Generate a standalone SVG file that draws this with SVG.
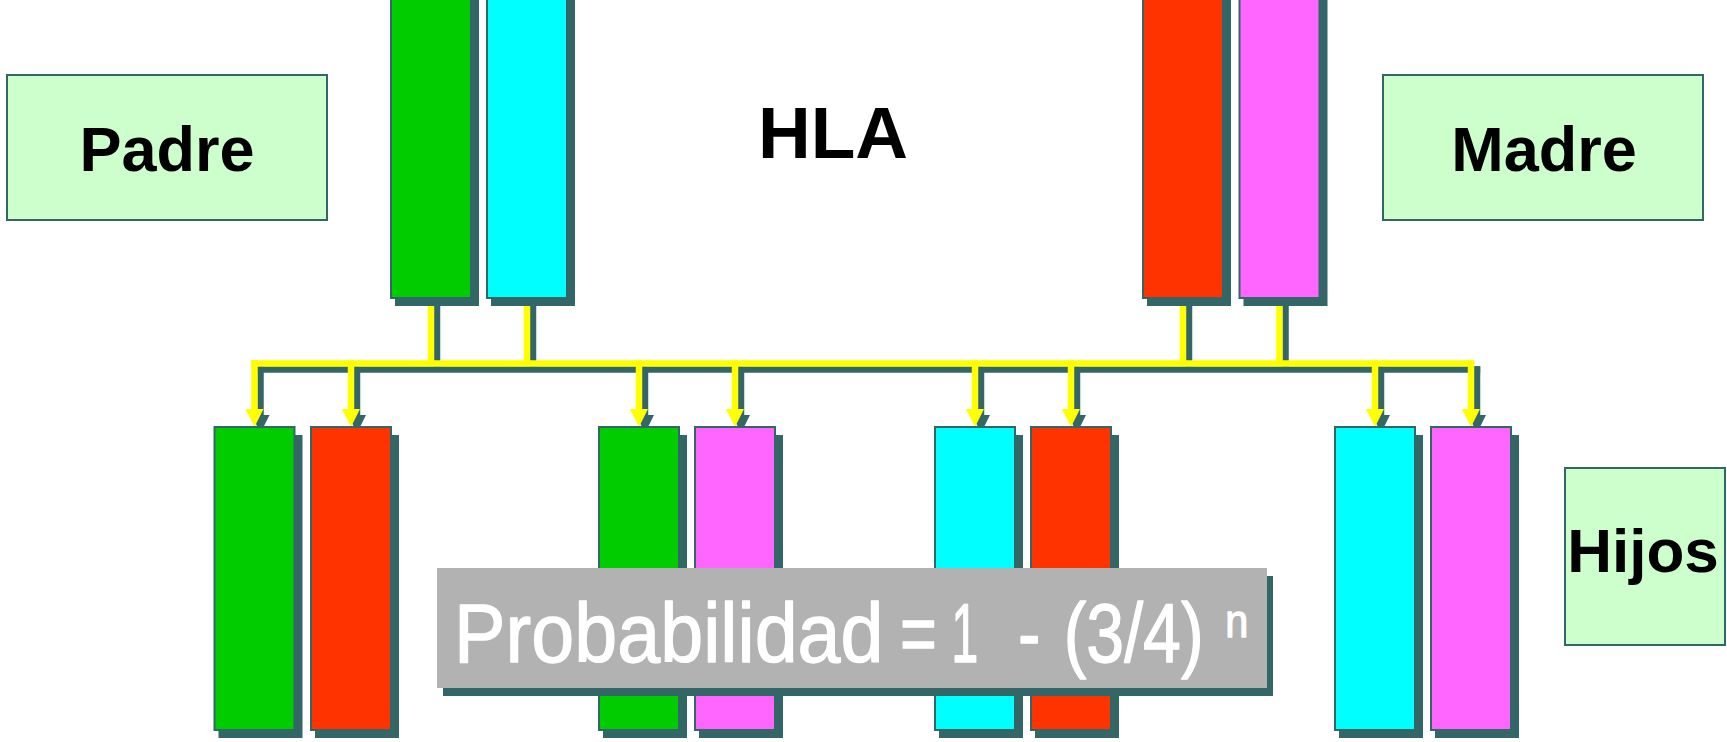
<svg xmlns="http://www.w3.org/2000/svg" width="1727" height="742" viewBox="0 0 1727 742">
<defs>
<style>
.bar{stroke:#336666;stroke-width:2}
.sh{fill:#336666}
.g{fill:#00cc00}.c{fill:#00ffff}.r{fill:#ff3300}.p{fill:#ff66ff}
.lbl{fill:#ccffcc;stroke:#336666;stroke-width:2}
.lt{font-family:"Liberation Sans",Arial,sans-serif;font-weight:bold;fill:#000;text-anchor:middle}
.pt{font-family:"Liberation Sans",Arial,sans-serif;font-size:84px;fill:#ffffff;stroke:#ffffff;stroke-width:1.3;stroke-linejoin:round}
.ly{fill:none;stroke:#ffff00;stroke-width:6.5}
.ls{fill:none;stroke:#336666;stroke-width:6.5}
.arr-y{marker-end:url(#ay)}
.arr-s{marker-end:url(#as)}
</style>
<marker id="ay" markerUnits="userSpaceOnUse" markerWidth="18" markerHeight="18" refX="0" refY="9" orient="auto"><path d="M0,0 L18,9 L0,18 Z" fill="#ffff00"/></marker>
<marker id="as" markerUnits="userSpaceOnUse" markerWidth="18" markerHeight="18" refX="0" refY="9" orient="auto"><path d="M0,0 L18,9 L0,18 Z" fill="#336666"/></marker>
</defs>
<rect x="0" y="0" width="1727" height="742" fill="#ffffff"/>

<g id="connectors">
  <g transform="translate(6,6)">
    <path class="ls" d="M431,298 V364 M527,298 V364 M1183,298 V364 M1279.5,298 V364"/>
    <path class="ls" d="M251.25,363.5 H1474.25"/>
    <path class="ls arr-s" d="M254.5,360.25 V409"/>
    <path class="ls arr-s" d="M351,360.25 V409"/>
    <path class="ls arr-s" d="M639,360.25 V409"/>
    <path class="ls arr-s" d="M735,360.25 V409"/>
    <path class="ls arr-s" d="M975,360.25 V409"/>
    <path class="ls arr-s" d="M1071,360.25 V409"/>
    <path class="ls arr-s" d="M1375,360.25 V409"/>
    <path class="ls arr-s" d="M1471,360.25 V409"/>
  </g>
  <path class="ly" d="M431,298 V364 M527,298 V364 M1183,298 V364 M1279.5,298 V364"/>
  <path class="ly" d="M251.25,363.5 H1474.25"/>
  <path class="ly arr-y" d="M254.5,360.25 V409"/>
  <path class="ly arr-y" d="M351,360.25 V409"/>
  <path class="ly arr-y" d="M639,360.25 V409"/>
  <path class="ly arr-y" d="M735,360.25 V409"/>
  <path class="ly arr-y" d="M975,360.25 V409"/>
  <path class="ly arr-y" d="M1071,360.25 V409"/>
  <path class="ly arr-y" d="M1375,360.25 V409"/>
  <path class="ly arr-y" d="M1471,360.25 V409"/>
</g>

<g id="padre-green"><rect class="sh" x="395" y="-2" width="84" height="308"/><rect class="bar g" x="391" y="-10" width="80" height="308"/></g>
<g id="padre-cyan"><rect class="sh" x="491" y="-2" width="84" height="308"/><rect class="bar c" x="487" y="-10" width="80" height="308"/></g>
<g id="madre-red"><rect class="sh" x="1147" y="-2" width="84" height="308"/><rect class="bar r" x="1143" y="-10" width="80" height="308"/></g>
<g id="madre-pink"><rect class="sh" x="1243.5" y="-2" width="84" height="308"/><rect class="bar p" x="1239.5" y="-10" width="80" height="308"/></g>

<g id="hijo1-green"><rect class="sh" x="218.5" y="435" width="84" height="303"/><rect class="bar g" x="214.5" y="427" width="80" height="303"/></g>
<g id="hijo1-red"><rect class="sh" x="315" y="435" width="84" height="303"/><rect class="bar r" x="311" y="427" width="80" height="303"/></g>
<g id="hijo2-green"><rect class="sh" x="603" y="435" width="84" height="303"/><rect class="bar g" x="599" y="427" width="80" height="303"/></g>
<g id="hijo2-pink"><rect class="sh" x="699" y="435" width="84" height="303"/><rect class="bar p" x="695" y="427" width="80" height="303"/></g>
<g id="hijo3-cyan"><rect class="sh" x="939" y="435" width="84" height="303"/><rect class="bar c" x="935" y="427" width="80" height="303"/></g>
<g id="hijo3-red"><rect class="sh" x="1035" y="435" width="84" height="303"/><rect class="bar r" x="1031" y="427" width="80" height="303"/></g>
<g id="hijo4-cyan"><rect class="sh" x="1339" y="435" width="84" height="303"/><rect class="bar c" x="1335" y="427" width="80" height="303"/></g>
<g id="hijo4-pink"><rect class="sh" x="1435" y="435" width="84" height="303"/><rect class="bar p" x="1431" y="427" width="80" height="303"/></g>

<g id="label-padre"><rect class="lbl" x="7" y="75" width="320" height="145"/><text class="lt" x="167" y="171" font-size="63">Padre</text></g>
<g id="label-madre"><rect class="lbl" x="1383" y="75" width="320" height="145"/><text class="lt" x="1544" y="171" font-size="63">Madre</text></g>
<g id="label-hla"><text class="lt" x="833" y="158" font-size="73">HLA</text></g>
<g id="label-hijos"><rect class="lbl" x="1565" y="468" width="160" height="177"/><text class="lt" x="1643" y="572" font-size="62">Hijos</text></g>

<g id="probabilidad">
  <rect class="sh" x="443" y="576" width="830" height="120"/>
  <rect x="437" y="568" width="830" height="120" fill="#b2b2b2"/>
  <text class="pt" transform="scale(0.92,1)" x="493.5" y="662">Probabilidad</text>
  <text class="pt" transform="scale(0.75,1)" x="1200" y="662">=</text>
  <text class="pt" transform="scale(0.58,1)" x="1640" y="662">1</text>
  <text class="pt" transform="scale(0.8,1)" x="1272.5" y="662">-</text>
  <text class="pt" transform="scale(0.81,1)" x="1313.2" y="662">(3/4)</text>
  <text class="pt" transform="scale(0.9,1)" x="1361.4" y="637" style="font-size:46px">n</text>
</g>
</svg>
